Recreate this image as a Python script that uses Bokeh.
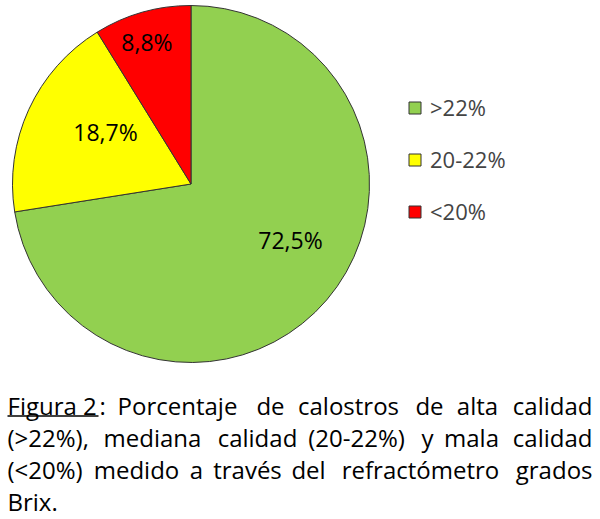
import numpy as np
from bokeh.plotting import figure
from bokeh.models import Range1d, Legend, LegendItem
from bokeh.core.properties import value
from bokeh.embed import file_html
from bokeh.resources import INLINE

# ---- data ----
categories = [">22%", "20-22%", "<20%"]
percentages = [72.5, 18.7, 8.8]
labels = ["72,5%", "18,7%", "8,8%"]
colors = ["#92D050", "#FFFF00", "#FF0000"]

caption_lines = [
    ["Figura 2", ":", "Porcentaje", "de", "calostros", "de", "alta", "calidad"],
    ["(>22%),", "mediana", "calidad", "(20-22%)", "y", "mala", "calidad"],
    ["(<20%)", "medido", "a", "través", "del", "refractómetro", "grados"],
    ["Brix."],
]

# ---- layout (page pixel coordinates; y data = 519 - page_y) ----
W, HT = 598, 517
H = 519
def Y(py):
    return H - py

FONT = "Open Sans"
cx, cy, R = 190.5, Y(183.5), 178.5
label_pos = [(290, 239), (105, 131.5), (146.5, 41.5)]
# (x, align) for each caption word
word_x = [
    [(7, "left"), (99, "left"), (177, "center"), (270, "center"), (348, "center"),
     (429, "center"), (477, "center"), (592, "right")],
    [(7, "left"), (152, "center"), (257, "center"), (356, "center"), (427, "center"),
     (471, "center"), (592, "right")],
    [(7, "left"), (136, "center"), (196, "center"), (247, "center"), (308, "center"),
     (420, "center"), (592, "right")],
    [(7, "left")],
]
line_mid = [404.5, 436.5, 468.5, 500.5]

p = figure(width=W, height=HT, output_backend="svg", toolbar_location=None,
           x_range=Range1d(0, W), y_range=Range1d(H - HT, H),
           min_border=0, outline_line_color=None)
p.axis.visible = False
p.grid.visible = False
p.background_fill_color = "white"
p.border_fill_color = "white"

# wedges (clockwise from top)
frac = np.array(percentages) / sum(percentages)
cum = np.concatenate([[0], np.cumsum(frac)])
start = np.pi / 2 - 2 * np.pi * cum[:-1]
end = np.pi / 2 - 2 * np.pi * cum[1:]
renderers = []
for i in range(len(categories)):
    r = p.wedge(x=cx, y=cy, radius=R, start_angle=start[i], end_angle=end[i],
                direction="clock", fill_color=colors[i], line_color="#333333",
                line_width=1)
    renderers.append(r)

# slice labels
p.text(x=[lp[0] for lp in label_pos], y=[Y(lp[1]) for lp in label_pos], text=labels,
       text_font=value(FONT), text_font_size="23px", text_align="center",
       text_baseline="middle", text_color="black")

# legend
legend = Legend(items=[LegendItem(label=categories[i], renderers=[renderers[i]]) for i in range(3)],
                location=(407, HT - 227), orientation="vertical",
                glyph_width=15, glyph_height=15, label_height=32, spacing=20,
                label_standoff=8, padding=0, margin=0,
                border_line_color=None, background_fill_alpha=0,
                label_text_font=FONT, label_text_font_size="22px",
                label_text_baseline="middle")
p.add_layout(legend, "center")

# caption (justified words)
for li, words in enumerate(caption_lines):
    for wi, w in enumerate(words):
        x, align = word_x[li][wi]
        p.text(x=[x], y=[Y(line_mid[li])], text=[w], text_font=value(FONT),
               text_font_size="24px", text_align=align,
               text_baseline="middle", text_color="black")

# underline for "Figura 2"
p.segment(x0=[7], y0=[Y(415.5)], x1=[98], y1=[Y(415.5)], line_color="black", line_width=1.5)

open("out.html", "w").write(file_html(p, INLINE))
